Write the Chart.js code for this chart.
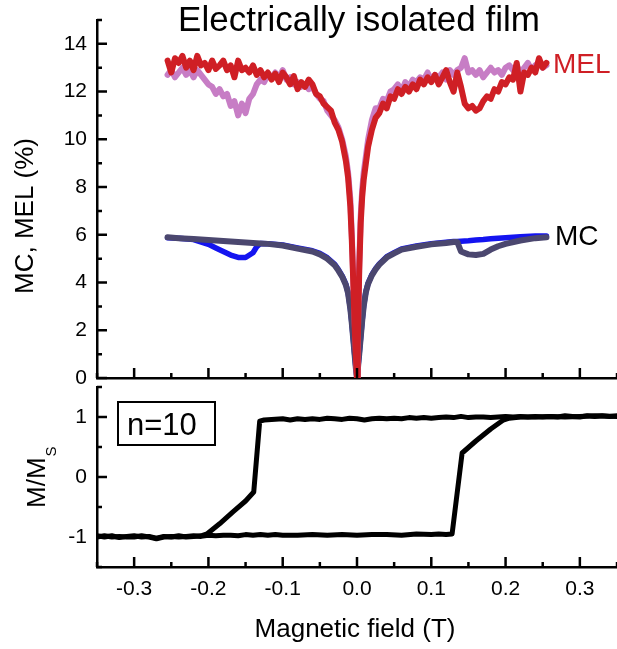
<!DOCTYPE html>
<html>
<head>
<meta charset="utf-8">
<script src="https://cdn.jsdelivr.net/npm/chart.js@4.4.1/dist/chart.umd.min.js"></script>
<style>
html, body { margin: 0; padding: 0; background: #fff; }
#wrap { position: relative; width: 617px; height: 649px; }
#topChart { position: absolute; left: 0; top: 0; }
#bottomChart { position: absolute; left: 0; top: 380px; }
</style>
</head>
<body>
<div id="wrap">
  <canvas id="topChart" width="617" height="385"></canvas>
  <canvas id="bottomChart" width="617" height="269"></canvas>
</div>
<script>
// tick labels
const fieldTicks = [-0.3, -0.2, -0.1, 0, 0.1, 0.2, 0.3];
const topTicks = [0, 2, 4, 6, 8, 10, 12, 14];
const bottomTicks = [-1, 0, 1];

// MEL traces (shared field grid)
const melField = [
  -0.255, -0.25, -0.245, -0.24, -0.235, -0.23, -0.225, -0.22, -0.215, -0.21,
  -0.205, -0.2, -0.195, -0.19, -0.185, -0.18, -0.175, -0.17, -0.165, -0.16,
  -0.155, -0.15, -0.145, -0.14, -0.135, -0.13, -0.125, -0.12, -0.115, -0.11,
  -0.105, -0.1, -0.095, -0.09, -0.085, -0.08, -0.075, -0.07, -0.065, -0.06,
  -0.055, -0.05, -0.045, -0.04, -0.035, -0.03, -0.025, -0.02, -0.015, -0.012,
  -0.009, -0.007, -0.005, -0.003, -0.001, 0, 0.001, 0.003, 0.005, 0.007,
  0.009, 0.012, 0.015, 0.02, 0.025, 0.03, 0.035, 0.04, 0.045, 0.05,
  0.055, 0.06, 0.065, 0.07, 0.075, 0.08, 0.085, 0.09, 0.095, 0.1,
  0.105, 0.11, 0.115, 0.12, 0.125, 0.13, 0.135, 0.14, 0.145, 0.15,
  0.155, 0.16, 0.165, 0.17, 0.175, 0.18, 0.185, 0.19, 0.195, 0.2,
  0.205, 0.21, 0.215, 0.22, 0.225, 0.23, 0.235, 0.24, 0.245, 0.25, 0.255
];
const melRed = [
  13.3, 12.8, 13.4, 13.2, 13.5, 13.0, 13.3, 12.9, 13.5, 13.1,
  13.2, 12.9, 13.3, 12.95, 13.1, 13.3, 12.9, 13.1, 12.6, 13.3,
  12.9, 13.0, 12.8, 13.1, 12.7, 12.9, 12.6, 12.8, 12.5, 12.75,
  12.4, 12.8, 12.6, 12.3, 12.65, 12.1, 12.4, 12.2, 12.5, 12.3,
  11.9, 11.8, 11.5, 11.35, 11.2, 10.7, 10.4, 9.9, 9.1, 8.4,
  7.2, 5.8, 4.0, 2.0, 0.6, 0.0, 1.4, 4.5, 6.5, 7.6,
  8.3, 9.0, 9.7, 10.4, 10.9, 11.1, 11.5, 11.3, 11.8, 11.7,
  12.1, 11.9, 12.2, 12.0, 12.3, 12.1, 12.5, 12.3, 12.6, 12.4,
  12.7, 12.3, 12.6, 12.9, 12.4, 12.0, 12.8, 12.2, 11.5, 11.3,
  11.4, 11.2, 11.3, 11.6, 11.8, 11.7, 12.1, 12.0, 12.4, 12.3,
  12.6, 12.5, 13.2, 12.0, 12.8, 12.7, 13.0, 12.8, 13.4, 13.0, 13.2
];
const melPurple = [
  12.7, 12.9, 12.6, 12.8, 13.0, 12.7, 12.9, 12.6, 12.9, 12.7,
  12.5, 12.3, 12.2, 11.9, 12.1, 11.8, 11.9, 11.4, 11.6, 11.0,
  11.5, 11.1, 11.7, 11.9, 12.3, 12.5, 12.4, 12.7, 12.6, 12.8,
  12.6, 12.9, 12.5, 12.6, 12.3, 12.4, 12.2, 12.3, 12.1, 12.2,
  11.9, 11.7, 11.6, 11.2, 11.0, 10.8, 10.5, 10.0, 9.3, 8.6,
  7.5, 6.0, 4.2, 2.3, 0.8, 0.0, 1.6, 4.8, 6.8, 7.9,
  8.6, 9.3, 10.0, 10.8, 11.3, 11.3, 11.7, 11.6, 12.0, 12.1,
  12.3, 12.0, 12.4, 12.2, 12.5, 12.4, 12.6, 12.5, 12.8, 12.5,
  12.7, 12.6, 12.8, 12.5, 12.9, 12.7, 12.9, 13.0, 13.4, 12.8,
  12.9, 12.7, 12.9, 12.6, 12.8, 13.0, 12.8, 12.9, 12.7, 13.0,
  13.1, 12.9, 13.1, 12.8, 13.0, 13.2, 12.9, 13.1, 13.2, 13.0, 13.1
];

// MC traces (shared field grid)
const mcField = [
  -0.255, -0.24, -0.22, -0.2, -0.19, -0.18, -0.17, -0.16, -0.15, -0.14,
  -0.135, -0.13, -0.12, -0.1, -0.08, -0.06, -0.05, -0.04, -0.03, -0.025,
  -0.02, -0.015, -0.012, -0.009, -0.007, -0.005, -0.003, -0.0015, 0, 0.0015,
  0.003, 0.005, 0.007, 0.009, 0.012, 0.015, 0.02, 0.025, 0.03, 0.04,
  0.05, 0.06, 0.08, 0.1, 0.12, 0.13, 0.135, 0.14, 0.15, 0.16,
  0.17, 0.18, 0.19, 0.2, 0.22, 0.24, 0.255
];
const mcGray = [
  5.9, 5.86, 5.82, 5.78, 5.76, 5.74, 5.72, 5.7, 5.68, 5.66,
  5.65, 5.64, 5.62, 5.55, 5.42, 5.3, 5.18, 5.0, 4.72, 4.5,
  4.25, 3.9, 3.55, 2.9, 2.3, 1.6, 0.9, 0.4, 0.0, 0.5,
  1.0, 1.7, 2.4, 3.0, 3.6, 3.95, 4.3, 4.55, 4.75, 5.05,
  5.22, 5.38, 5.5, 5.6, 5.66, 5.7, 5.7, 5.3, 5.18, 5.15,
  5.2, 5.38, 5.52, 5.62, 5.76, 5.86, 5.9
];
const mcBlue = [
  5.88, 5.86, 5.8, 5.6, 5.45, 5.3, 5.15, 5.05, 5.05, 5.25,
  5.5, 5.64, 5.63, 5.57, 5.45, 5.33, 5.22, 5.04, 4.76, 4.54,
  4.28, 3.93, 3.58, 2.93, 2.33, 1.63, 0.93, 0.42, 0.0, 0.52,
  1.03, 1.73, 2.43, 3.03, 3.63, 3.98, 4.33, 4.58, 4.78, 5.08,
  5.25, 5.41, 5.53, 5.63, 5.69, 5.72, 5.72, 5.73, 5.75, 5.78,
  5.8, 5.83, 5.86, 5.88, 5.92, 5.95, 5.95
];

// hysteresis loop, M/Ms
const upperField = [
  -0.35, -0.34, -0.33, -0.32, -0.31, -0.3, -0.29, -0.28, -0.27, -0.26,
  -0.25, -0.24, -0.23, -0.22, -0.21, -0.202, -0.185, -0.167, -0.15, -0.139,
  -0.131, -0.125, -0.115, -0.1, -0.09, -0.08, -0.07, -0.06, -0.05, -0.04,
  -0.03, -0.02, -0.01, 0, 0.01, 0.02, 0.03, 0.04, 0.05, 0.06,
  0.07, 0.08, 0.09, 0.1, 0.11, 0.12, 0.13, 0.14, 0.15, 0.16,
  0.17, 0.18, 0.19, 0.2, 0.21, 0.22, 0.23, 0.24, 0.25, 0.26,
  0.27, 0.28, 0.29, 0.3, 0.31, 0.32, 0.33, 0.34, 0.35
];
const upperM = [
  -0.98, -1.0, -0.98, -1.01, -0.99, -0.98, -1.0, -0.99, -1.02, -0.99,
  -1.0, -0.98, -1.0, -0.99, -0.98, -0.95, -0.78, -0.58, -0.4, -0.25,
  0.93, 0.95, 0.96, 0.97, 0.95, 0.97, 0.96, 0.97, 0.96, 0.98,
  0.97, 0.96, 0.98, 0.97, 0.95, 0.97, 0.98, 0.97, 0.98, 0.97,
  0.99, 0.98, 0.99, 0.98, 0.99, 1.0, 0.99, 1.01, 0.99, 1.0,
  1.0, 0.99, 1.0, 1.01, 1.0, 1.01, 1.0, 1.01, 1.0, 1.01,
  1.0, 1.02, 1.01, 1.0, 1.02, 1.01, 1.02, 1.01, 1.02
];
const lowerField = [
  -0.35, -0.34, -0.33, -0.32, -0.31, -0.3, -0.29, -0.28, -0.27, -0.26,
  -0.25, -0.24, -0.23, -0.22, -0.21, -0.2, -0.19, -0.18, -0.17, -0.16,
  -0.15, -0.14, -0.13, -0.12, -0.11, -0.1, -0.08, -0.06, -0.04, -0.02,
  0, 0.02, 0.04, 0.06, 0.08, 0.1, 0.11, 0.12, 0.128, 0.1415,
  0.16, 0.18, 0.197, 0.205, 0.22, 0.24, 0.26, 0.28, 0.3, 0.32, 0.35
];
const lowerM = [
  -1.0, -0.98, -1.0, -0.99, -1.0, -1.0, -0.98, -1.0, -1.03, -1.0,
  -0.99, -1.0, -0.99, -0.98, -0.99, -0.97, -0.98, -0.97, -0.97, -0.98,
  -0.96, -0.97, -0.96, -0.97, -0.96, -0.97, -0.97, -0.96, -0.97, -0.96,
  -0.97, -0.96, -0.96, -0.97, -0.95, -0.96, -0.95, -0.96, -0.95, 0.4,
  0.6, 0.8, 0.95, 0.98, 1.0, 1.0, 1.01, 1.0, 1.01, 1.02, 1.01
];

const pts = (xs, ys) => xs.map((x, i) => ({ x: x, y: ys[i] }));
const FONT = "'Liberation Sans', Arial, sans-serif";
Chart.defaults.font.family = FONT;
Chart.defaults.color = "#000";

// ticks drawn inward, every step, longer on the major ones
function inwardTicks(chart, xStep, xEvery, yStep, yEvery) {
  const ctx = chart.ctx, area = chart.chartArea;
  const xs = chart.scales.x, ys = chart.scales.y;
  ctx.save();
  ctx.strokeStyle = "#000";
  ctx.lineWidth = 2.5;
  ctx.beginPath();
  for (let i = Math.ceil(xs.min / xStep - 1e-6); i <= Math.floor(xs.max / xStep + 1e-6); i++) {
    const px = xs.getPixelForValue(i * xStep);
    const len = i % xEvery === 0 ? 10 : 5;
    ctx.moveTo(px, area.bottom);
    ctx.lineTo(px, area.bottom - len);
  }
  for (let i = Math.ceil(ys.min / yStep - 1e-6); i <= Math.floor(ys.max / yStep + 1e-6); i++) {
    const py = ys.getPixelForValue(i * yStep);
    const len = i % yEvery === 0 ? 10 : 5;
    ctx.moveTo(area.left, py);
    ctx.lineTo(area.left + len, py);
  }
  ctx.stroke();
  ctx.restore();
}

function fixedAxes(yWidth, xHeight) {
  const zeroPad = s => { s.paddingTop = 0; s.paddingBottom = 0; s.paddingLeft = 0; s.paddingRight = 0; };
  return {
    x: { afterFit: s => { s.height = xHeight; zeroPad(s); } },
    y: { afterFit: s => { s.width = yWidth; zeroPad(s); } }
  };
}

const fitTop = fixedAxes(97, 7);
const fitBottom = fixedAxes(97, 82);

new Chart(document.getElementById("topChart"), {
  type: "line",
  data: {
    datasets: [
      { data: pts(melField, melRed), borderColor: "#cf1f25", borderWidth: 6 },
      { data: pts(melField, melPurple), borderColor: "#c77dc5", borderWidth: 6 },
      { data: pts(mcField, mcGray), borderColor: "#4b476f", borderWidth: 6 },
      { data: pts(mcField, mcBlue), borderColor: "#1414f0", borderWidth: 5.5 }
    ]
  },
  options: {
    responsive: false,
    animation: false,
    events: [],
    layout: { padding: { top: 20, left: 0, right: 0, bottom: 0 } },
    elements: {
      point: { radius: 0 },
      line: { tension: 0, borderJoinStyle: "round", borderCapStyle: "round" }
    },
    plugins: { legend: { display: false }, tooltip: { enabled: false } },
    scales: {
      x: {
        type: "linear", min: -0.35, max: 0.35,
        grid: { display: false, drawTicks: false },
        border: { display: true, color: "#000", width: 2.5 },
        ticks: { display: false },
        afterFit: fitTop.x.afterFit
      },
      y: {
        min: 0, max: 15,
        grid: { display: false, drawTicks: false },
        border: { display: true, color: "#000", width: 2.5 },
        ticks: { font: { size: 21 }, padding: 10, color: "#000" },
        afterBuildTicks: axis => { axis.ticks = topTicks.map(v => ({ value: v })); },
        afterFit: fitTop.y.afterFit
      }
    }
  },
  plugins: [{
    id: "topDecor",
    afterDraw(chart) {
      inwardTicks(chart, 0.05, 2, 1, 2);
      const ctx = chart.ctx;
      ctx.save();
      ctx.fillStyle = "#000";
      ctx.textBaseline = "alphabetic";
      ctx.font = "35px " + FONT;
      ctx.textAlign = "center";
      ctx.fillText("Electrically isolated film", 359, 31);
      ctx.textAlign = "left";
      ctx.font = "28px " + FONT;
      ctx.fillStyle = "#cf1f25";
      ctx.fillText("MEL", 553, 73);
      ctx.fillStyle = "#000";
      ctx.fillText("MC", 555, 245);
      ctx.translate(33, 216);
      ctx.rotate(-Math.PI / 2);
      ctx.textAlign = "center";
      ctx.font = "26px " + FONT;
      ctx.fillText("MC, MEL (%)", 0, 0);
      ctx.restore();
    }
  }]
});

new Chart(document.getElementById("bottomChart"), {
  type: "line",
  data: {
    datasets: [
      { data: pts(upperField, upperM), borderColor: "#000", borderWidth: 5 },
      { data: pts(lowerField, lowerM), borderColor: "#000", borderWidth: 5 }
    ]
  },
  options: {
    responsive: false,
    animation: false,
    events: [],
    layout: { padding: { top: 7, left: 0, right: 0, bottom: 0 } },
    elements: {
      point: { radius: 0 },
      line: { tension: 0, borderJoinStyle: "round", borderCapStyle: "round" }
    },
    plugins: { legend: { display: false }, tooltip: { enabled: false } },
    scales: {
      x: {
        type: "linear", min: -0.35, max: 0.35,
        grid: { display: false, drawTicks: false },
        border: { display: true, color: "#000", width: 2.5 },
        ticks: { font: { size: 21 }, padding: 10, color: "#000", maxRotation: 0,
                 callback: v => v.toFixed(1) },
        afterBuildTicks: axis => { axis.ticks = fieldTicks.map(v => ({ value: v })); },
        afterFit: fitBottom.x.afterFit
      },
      y: {
        min: -1.5, max: 1.5,
        grid: { display: false, drawTicks: false },
        border: { display: true, color: "#000", width: 2.5 },
        ticks: { font: { size: 21 }, padding: 10, color: "#000" },
        afterBuildTicks: axis => { axis.ticks = bottomTicks.map(v => ({ value: v })); },
        afterFit: fitBottom.y.afterFit
      }
    }
  },
  plugins: [{
    id: "bottomDecor",
    afterDraw(chart) {
      inwardTicks(chart, 0.05, 2, 0.5, 2);
      const ctx = chart.ctx;
      ctx.save();
      ctx.fillStyle = "#000";
      ctx.strokeStyle = "#000";
      ctx.lineWidth = 2;
      ctx.strokeRect(118, 22, 97, 43);
      ctx.font = "31px " + FONT;
      ctx.textAlign = "left";
      ctx.textBaseline = "alphabetic";
      ctx.fillText("n=10", 127, 55);
      ctx.font = "26px " + FONT;
      ctx.textAlign = "center";
      ctx.fillText("Magnetic field (T)", 355, 257);
      ctx.translate(45, 128);
      ctx.rotate(-Math.PI / 2);
      ctx.textAlign = "left";
      ctx.fillText("M/M", 0, 0);
      const w = ctx.measureText("M/M").width;
      ctx.font = "15px " + FONT;
      ctx.fillText("S", w + 1, 11);
      ctx.restore();
    }
  }]
});
</script>
</body>
</html>
